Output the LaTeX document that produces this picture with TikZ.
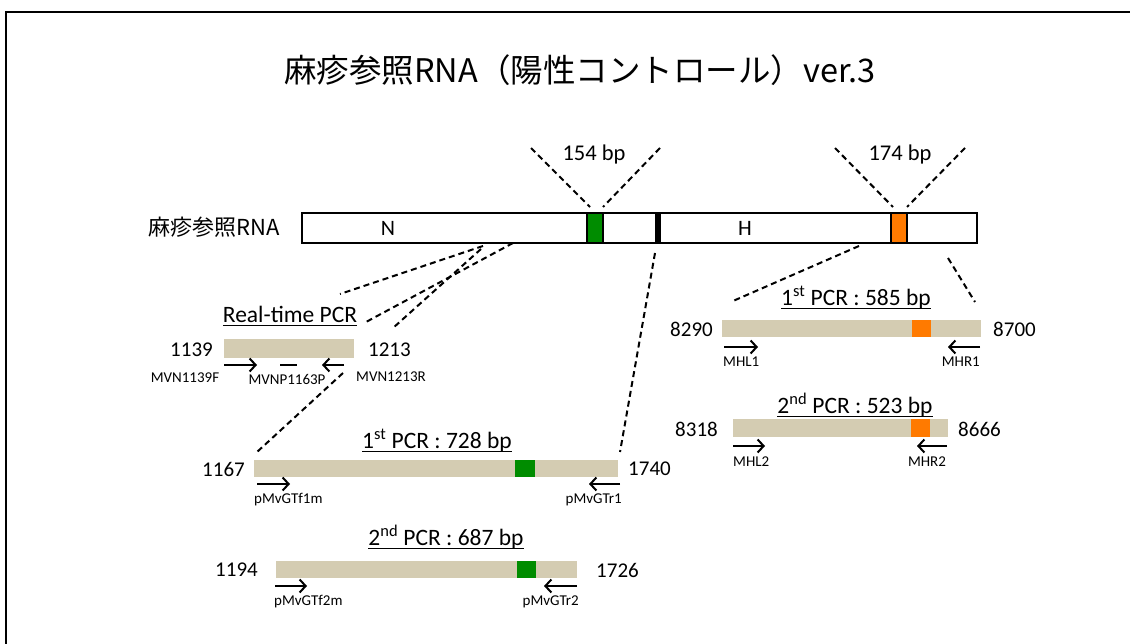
\documentclass[tikz,border=0pt]{standalone}
\usepackage{fontspec}
\setmainfont{Carlito}
\newfontfamily\jp{Noto Sans CJK JP}
\usetikzlibrary{arrows.meta}
\definecolor{tanbar}{RGB}{212,204,178}
\definecolor{gbox}{RGB}{0,140,0}
\definecolor{obox}{RGB}{255,122,0}
\newcommand\myul[1]{\setbox0\hbox{#1}\rlap{\rule[-3.5pt]{\wd0}{1.3pt}}\box0}
\begin{document}
\begin{tikzpicture}[x=1pt,y=-1pt,
  num/.style={font=\fontsize{21}{24}\selectfont, inner sep=0},
  prim/.style={font=\fontsize{15}{17}\selectfont, inner sep=0},
  ttl/.style={font=\fontsize{23.5}{27}\selectfont, inner sep=0},
  amp/.style={fill=tanbar, draw=none, inner sep=0},
  mark/.style={fill=#1, draw=none, inner sep=0},
  dsh/.style={dash pattern=on 6pt off 4pt, line width=2pt},
  parr/.style={line width=2pt, -{Straight Barb[length=6pt,width=13pt,line width=2pt]}},
  sbox/.style={draw, line width=1.8pt, inner sep=0, anchor=north west}]
\useasboundingbox (0,0) rectangle (1130,644);
\draw[line width=2.5pt] (6,660) -- (6,12) -- (1140,12);
% title
\node[font=\jp\fontsize{32.5}{38}\selectfont, inner sep=0] (title) at (580,70) {麻疹参照RNA（陽性コントロール）ver.3};
% main bar
\node[font=\jp\fontsize{22}{26}\selectfont, inner sep=0, anchor=east] (rnalbl) at (280,227) {麻疹参照RNA};
\node[sbox, fill=white, minimum width=675pt, minimum height=30pt] (rna) at (301,212) {};
\node[sbox, fill=gbox, minimum width=16pt, minimum height=30pt] (gm) at (586,212) {};
\node[sbox, fill=black, minimum width=4pt, minimum height=30pt] (km) at (655,212) {};
\node[sbox, fill=obox, minimum width=16pt, minimum height=30pt] (om) at (890,212) {};
\node[font=\fontsize{22}{26}\selectfont, inner sep=0] (Nl) at (388,228) {N};
\node[font=\fontsize{22}{26}\selectfont, inner sep=0] (Hl) at (745,228) {H};
% bp labels
\node[font=\fontsize{22.5}{26}\selectfont, inner sep=0] (bp1) at (594,155) {154 bp};
\node[font=\fontsize{22.5}{26}\selectfont, inner sep=0] (bp2) at (900,155) {174 bp};
\coordinate (g1a) at (531,148); \coordinate (g1b) at (590,207);
\coordinate (g2a) at (660,148); \coordinate (g2b) at (603,207);
\coordinate (o1a) at (835,148); \coordinate (o1b) at (893,207);
\coordinate (o2a) at (965,148); \coordinate (o2b) at (907,207);
\draw[dsh] (g1a) -- (g1b); \draw[dsh] (g2a) -- (g2b);
\draw[dsh] (o1a) -- (o1b); \draw[dsh] (o2a) -- (o2b);
% dashed lines below bar
\coordinate (nA) at (483,246); \coordinate (nAe) at (340,294);
\coordinate (nB) at (513,243); \coordinate (nBe) at (366,322);
\coordinate (nC) at (481,249); \coordinate (nCe) at (393,328);
\coordinate (nC2) at (343,373); \coordinate (nC2e) at (257,452);
\coordinate (nD) at (655,253); \coordinate (nDe) at (620,452);
\coordinate (hA) at (859,246); \coordinate (hAe) at (733,301);
\coordinate (hB) at (948,258); \coordinate (hBe) at (975,302);
\draw[dsh] (nA) -- (nAe);
\draw[dsh] (nB) -- (nBe);
\draw[dsh] (nC) -- (nCe);
\draw[dsh] (nC2) -- (nC2e);
\draw[dsh] (nD) -- (nDe);
\draw[dsh] (hA) -- (hAe);
\draw[dsh] (hB) -- (hBe);
% Real-time PCR
\node[ttl] (rtt) at (290,316) {\myul{Real-time PCR}};
\node[amp, minimum width=130pt, minimum height=18pt] (rt) at (289,348.5) {};
\node[num, anchor=east] (n1139) at (213,350) {1139};
\node[num, anchor=west] (n1213) at (368,350) {1213};
\coordinate (rtf1) at (224,365); \coordinate (rtf2) at (257,365);
\coordinate (rtr1) at (344,365); \coordinate (rtr2) at (322,365);
\coordinate (rtp1) at (280,365); \coordinate (rtp2) at (297,365);
\draw[parr] (rtf1) -- (rtf2);
\draw[parr] (rtr1) -- (rtr2);
\draw[line width=2pt] (rtp1) -- (rtp2);
\node[prim] (p1) at (185,378) {MVN1139F};
\node[prim] (p2) at (287,379) {MVNP1163P};
\node[prim] (p3) at (391,377) {MVN1213R};
% 1st PCR 728
\node[ttl] (t728) at (437,441) {\myul{1\textsuperscript{st} PCR : 728 bp}};
\node[amp, minimum width=364pt, minimum height=17pt] (b728) at (436,468.5) {};
\node[mark=gbox, minimum width=20pt, minimum height=17pt] (g728) at (525,468.5) {};
\node[num, anchor=east] (n1167) at (245,469) {1167};
\node[num, anchor=west] (n1740) at (628,469) {1740};
\coordinate (a1s) at (257,484); \coordinate (a1e) at (290,484);
\coordinate (a2s) at (620,484); \coordinate (a2e) at (589,484);
\draw[parr] (a1s) -- (a1e); \draw[parr] (a2s) -- (a2e);
\node[prim, anchor=west] (pf1) at (254,500) {pMvGTf1m};
\node[prim, anchor=east] (pr1) at (622,500) {pMvGTr1};
% 2nd PCR 687
\node[ttl] (t687) at (446,537) {\myul{2\textsuperscript{nd} PCR : 687 bp}};
\node[amp, minimum width=301pt, minimum height=17pt] (b687) at (426.5,569.5) {};
\node[mark=gbox, minimum width=19pt, minimum height=17pt] (g687) at (526.5,569.5) {};
\node[num, anchor=east] (n1194) at (258,570) {1194};
\node[num, anchor=west] (n1726) at (596,570) {1726};
\coordinate (b1s) at (275,586); \coordinate (b1e) at (307,586);
\coordinate (b2s) at (577,586); \coordinate (b2e) at (544,586);
\draw[parr] (b1s) -- (b1e); \draw[parr] (b2s) -- (b2e);
\node[prim, anchor=west] (pf2) at (274,602) {pMvGTf2m};
\node[prim, anchor=east] (pr2) at (579,602) {pMvGTr2};
% 1st PCR 585
\node[ttl] (t585) at (856,298) {\myul{1\textsuperscript{st} PCR : 585 bp}};
\node[amp, minimum width=259pt, minimum height=17pt] (b585) at (851.5,328.5) {};
\node[mark=obox, minimum width=19pt, minimum height=17pt] (o585) at (921.5,328.5) {};
\node[num, anchor=east] (n8290) at (713,329) {8290};
\node[num, anchor=west] (n8700) at (993,329) {8700};
\coordinate (c1s) at (724,347); \coordinate (c1e) at (758,347);
\coordinate (c2s) at (980,347); \coordinate (c2e) at (948,347);
\draw[parr] (c1s) -- (c1e); \draw[parr] (c2s) -- (c2e);
\node[prim, anchor=west] (mhl1) at (723,362) {MHL1};
\node[prim, anchor=east] (mhr1) at (980,362) {MHR1};
% 2nd PCR 523
\node[ttl] (t523) at (855,405) {\myul{2\textsuperscript{nd} PCR : 523 bp}};
\node[amp, minimum width=215pt, minimum height=18pt] (b523) at (840.5,428) {};
\node[mark=obox, minimum width=19pt, minimum height=18pt] (o523) at (920.5,428) {};
\node[num, anchor=east] (n8318) at (718,429) {8318};
\node[num, anchor=west] (n8666) at (958,429) {8666};
\coordinate (d1s) at (733,446); \coordinate (d1e) at (765,446);
\coordinate (d2s) at (947,446); \coordinate (d2e) at (917,446);
\draw[parr] (d1s) -- (d1e); \draw[parr] (d2s) -- (d2e);
\node[prim, anchor=west] (mhl2) at (733,462) {MHL2};
\node[prim] (mhr2) at (927,462) {MHR2};
\end{tikzpicture}
\end{document}
